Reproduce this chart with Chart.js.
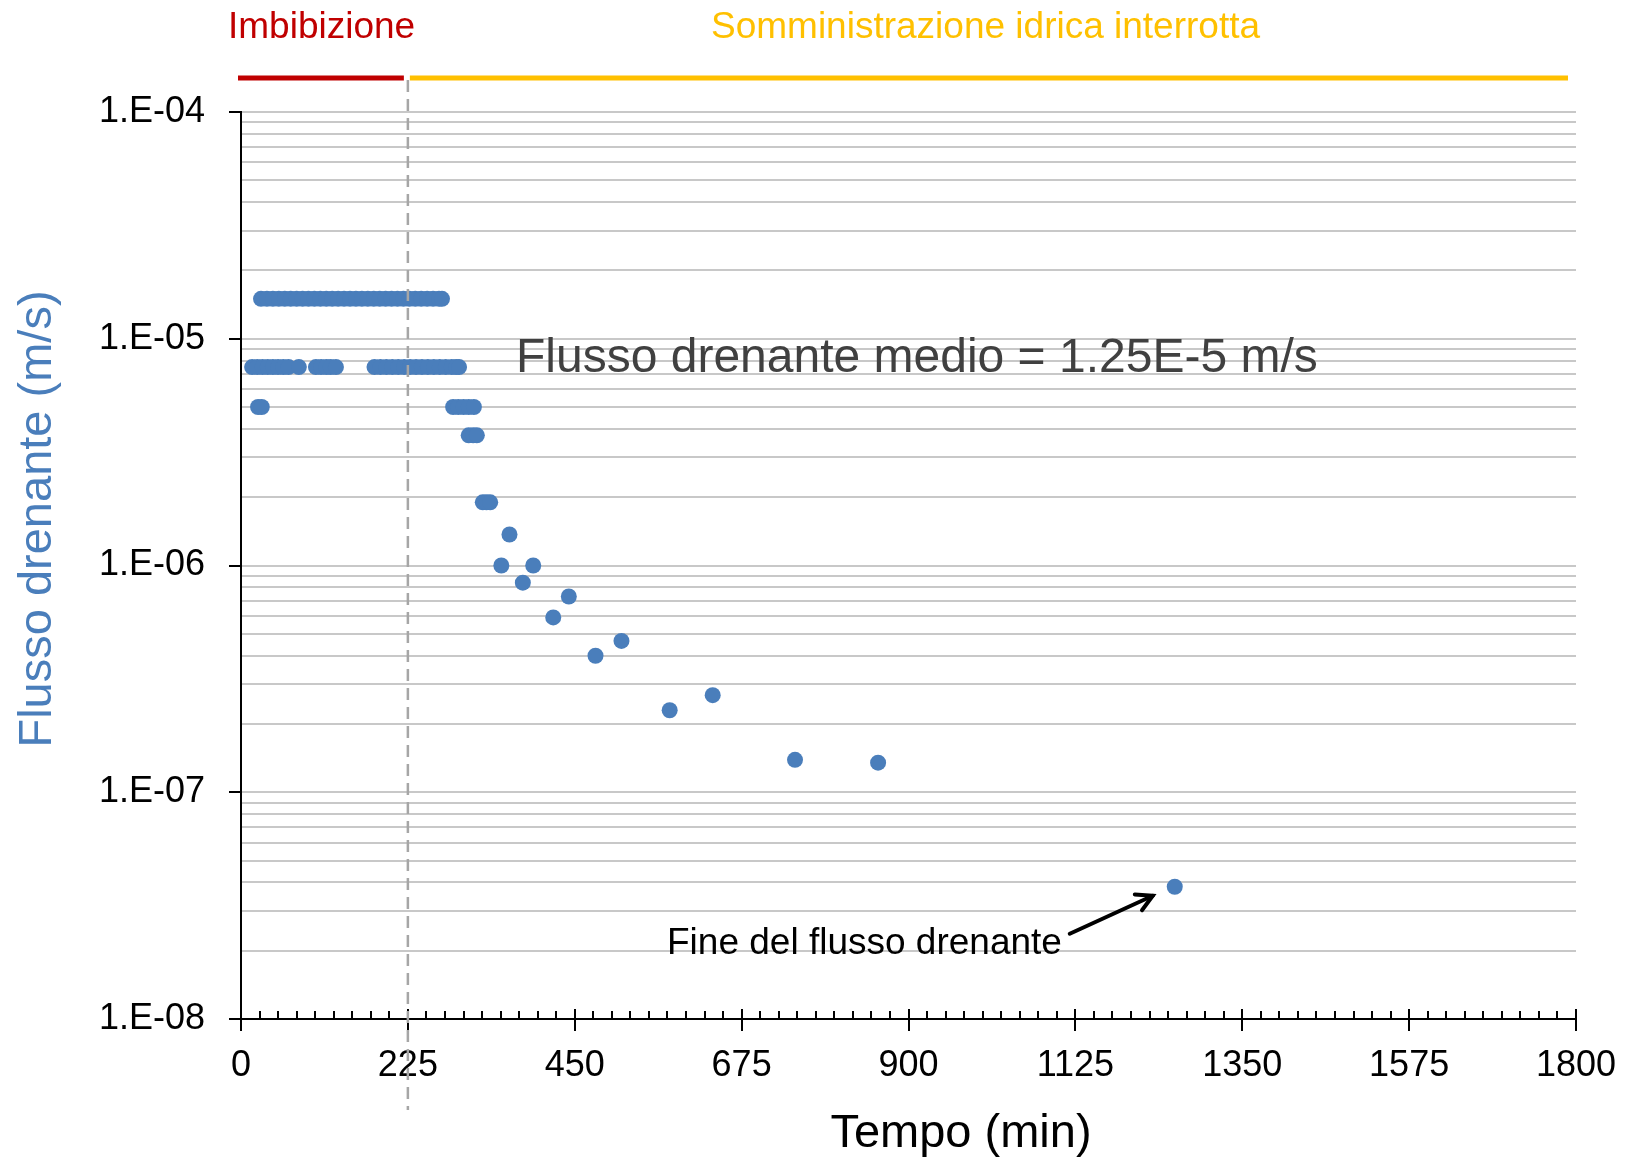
<!DOCTYPE html>
<html>
<head>
<meta charset="utf-8">
<script src="https://cdn.jsdelivr.net/npm/chart.js@4/dist/chart.umd.min.js"></script>
<style>
html,body{margin:0;padding:0;background:#fff;}
#wrap{width:1632px;height:1159px;position:relative;background:#fff;}
</style>
</head>
<body>
<div id="wrap"><canvas id="c" width="1632" height="1159"></canvas></div>
<script>
// ---------------- DATA ----------------
// time (min) of each measurement
const timeMin = [
  // flux 1.5E-5
  27,35,43,51,59,67,75,83,91,99,107,115,123,131,139,147,155,163,171,179,187,195,203,211,219,227,235,243,251,259,267,271,
  // flux 7.5E-6
  15,22,29,36,43,50,57,64,78, 101,108,115,121,128,
  180,188,196,204,212,220,228,236,244,252,260,268,276,284,290,294,
  // flux 5E-6
  23,28, 286,293,300,307,314,
  // flux 3.75E-6
  307,313,318,
  // flux 1.9E-6
  326,331,336,
  // later isolated readings
  351,362,380,394,421,442,478,513,578,636,747,859,1259
];
// drainage flux (m/s)
const fluxMs = [
  1.5e-5,1.5e-5,1.5e-5,1.5e-5,1.5e-5,1.5e-5,1.5e-5,1.5e-5,1.5e-5,1.5e-5,1.5e-5,1.5e-5,1.5e-5,1.5e-5,1.5e-5,1.5e-5,
  1.5e-5,1.5e-5,1.5e-5,1.5e-5,1.5e-5,1.5e-5,1.5e-5,1.5e-5,1.5e-5,1.5e-5,1.5e-5,1.5e-5,1.5e-5,1.5e-5,1.5e-5,1.5e-5,
  7.5e-6,7.5e-6,7.5e-6,7.5e-6,7.5e-6,7.5e-6,7.5e-6,7.5e-6,7.5e-6, 7.5e-6,7.5e-6,7.5e-6,7.5e-6,7.5e-6,
  7.5e-6,7.5e-6,7.5e-6,7.5e-6,7.5e-6,7.5e-6,7.5e-6,7.5e-6,7.5e-6,7.5e-6,7.5e-6,7.5e-6,7.5e-6,7.5e-6,7.5e-6,7.5e-6,
  5e-6,5e-6, 5e-6,5e-6,5e-6,5e-6,5e-6,
  3.75e-6,3.75e-6,3.75e-6,
  1.9e-6,1.9e-6,1.9e-6,
  1.0e-6,1.37e-6,8.4e-7,1.0e-6,5.9e-7,7.3e-7,4.0e-7,4.65e-7,2.3e-7,2.68e-7,1.39e-7,1.35e-7,3.83e-8
];
const xTickLabels = ['0','225','450','675','900','1125','1350','1575','1800'];
const yDecades = [1e-8,1e-7,1e-6,1e-5,1e-4];
const yTickLabels = ['1.E-08','1.E-07','1.E-06','1.E-05','1.E-04'];
const yMinorMultipliers = [1,2,3,4,5,6,7,8,9];
const phaseBoundary = 225;
const phaseLabels = ['Imbibizione','Somministrazione idrica interrotta'];
const annotationMean = 'Flusso drenante medio = 1.25E-5 m/s';
const annotationEnd = 'Fine del flusso drenante';
const endPointIndex = timeMin.length - 1;
const xTitle = 'Tempo (min)';
const yTitle = 'Flusso drenante (m/s)';

// ---------------- CHART ----------------
const FONT = "Arial, 'Liberation Sans', sans-serif";
const BLUE = '#4a7ebb';
const points = timeMin.map((t,i)=>({x:t, y:fluxMs[i]}));

function isDecade(v){ return yDecades.findIndex(d => Math.abs(v-d)/d < 1e-6); }

const deco = {
  id:'deco',
  afterDatasetsDraw(chart){
    const {ctx, scales:{x,y}} = chart;
    const axisY = y.getPixelForValue(yDecades[0]);
    ctx.save();
    // x axis tick marks (minor every 25 inside, major every 225 crossing)
    ctx.strokeStyle = '#000'; ctx.lineWidth = 2;
    for (let v = x.min; v <= x.max; v += 25) {
      const px = Math.round(x.getPixelForValue(v));
      const major = (v % 225) === 0;
      ctx.beginPath();
      ctx.moveTo(px, major ? axisY - 10 : axisY - 8);
      ctx.lineTo(px, major ? axisY + 12 : axisY);
      ctx.stroke();
    }
    // dashed boundary
    const xb = x.getPixelForValue(phaseBoundary);
    ctx.setLineDash([12,7]);
    ctx.strokeStyle = '#a6a6a6'; ctx.lineWidth = 2.5;
    ctx.beginPath(); ctx.moveTo(xb, 80); ctx.lineTo(xb, 1110); ctx.stroke();
    ctx.setLineDash([]);
    // phase bars
    ctx.lineWidth = 5;
    ctx.strokeStyle = '#c00000';
    ctx.beginPath(); ctx.moveTo(x.getPixelForValue(x.min) - 3, 78); ctx.lineTo(xb - 4, 78); ctx.stroke();
    ctx.strokeStyle = '#ffc000';
    ctx.beginPath(); ctx.moveTo(xb + 2, 78); ctx.lineTo(x.getPixelForValue(x.max) - 8, 78); ctx.stroke();
    // phase labels
    ctx.font = '37px ' + FONT;
    ctx.textBaseline = 'alphabetic';
    ctx.textAlign = 'left';
    ctx.fillStyle = '#c00000';
    ctx.fillText(phaseLabels[0], 228, 38);
    ctx.fillStyle = '#ffc000';
    ctx.fillText(phaseLabels[1], 711, 38);
    // mean annotation
    ctx.font = '48px ' + FONT;
    ctx.fillStyle = '#404040';
    ctx.fillText(annotationMean, 516, 372);
    // end annotation + arrow
    ctx.font = '37px ' + FONT;
    ctx.fillStyle = '#000';
    ctx.fillText(annotationEnd, 667, 954);
    const ex = x.getPixelForValue(timeMin[endPointIndex]);
    const ey = y.getPixelForValue(fluxMs[endPointIndex]);
    const tx = ex - 22, ty = ey + 9;       // arrow tip
    const sx = ex - 105, sy = ey + 47;     // arrow tail
    ctx.strokeStyle = '#000'; ctx.lineWidth = 4; ctx.lineCap = 'round';
    ctx.beginPath(); ctx.moveTo(sx, sy); ctx.lineTo(tx, ty); ctx.stroke();
    const ang = Math.atan2(ty - sy, tx - sx);
    const hl = 18;
    ctx.beginPath();
    ctx.moveTo(tx - hl*Math.cos(ang - 0.5), ty - hl*Math.sin(ang - 0.5));
    ctx.lineTo(tx, ty);
    ctx.lineTo(tx - hl*Math.cos(ang + 0.5), ty - hl*Math.sin(ang + 0.5));
    ctx.stroke();
    // axis titles
    ctx.font = '47px ' + FONT;
    ctx.fillStyle = '#000';
    ctx.textAlign = 'center';
    ctx.fillText(xTitle, 961, 1147);
    ctx.save();
    ctx.translate(51, 519);
    ctx.rotate(-Math.PI/2);
    ctx.fillStyle = BLUE;
    ctx.fillText(yTitle, 0, 0);
    ctx.restore();
    ctx.restore();
  }
};

new Chart(document.getElementById('c'), {
  type:'scatter',
  data:{ datasets:[{
    data: points,
    backgroundColor: BLUE,
    borderWidth: 0,
    pointRadius: 8,
    pointHoverRadius: 8
  }]},
  options:{
    responsive:false,
    animation:false,
    devicePixelRatio:1,
    layout:{ padding:{ top:112, right:56, bottom:0, left:0 } },
    plugins:{ legend:{display:false}, tooltip:{enabled:false} },
    scales:{
      x:{
        type:'linear', min:0, max:1800,
        afterFit(s){ s.height = 140; },
        ticks:{
          stepSize:225, autoSkip:false, maxRotation:0,
          padding:14, color:'#000',
          font:{ family:FONT, size:36 },
          callback(v){ const i = Math.round(v/225); return xTickLabels[i] ?? ''; }
        },
        grid:{ display:false, drawTicks:true, tickLength:11, tickColor:'rgba(0,0,0,0)' },
        border:{ display:true, color:'#000', width:2 }
      },
      y:{
        type:'logarithmic', min:yDecades[0], max:yDecades[yDecades.length-1],
        afterFit(s){ s.width = 241; },
        afterBuildTicks(s){
          const t = [];
          for (let d = 0; d < yDecades.length; d++) {
            for (const m of yMinorMultipliers) {
              const v = m * yDecades[d];
              if (v <= yDecades[yDecades.length-1] * 1.000001) t.push({value: v});
              if (d === yDecades.length-1) break;
            }
          }
          s.ticks = t;
        },
        ticks:{
          autoSkip:false, padding:24, color:'#000',
          font:{ family:FONT, size:36 },
          callback(v){ const i = isDecade(v); return i >= 0 ? yTickLabels[i] : ''; }
        },
        grid:{
          color:'#c8c8c8', lineWidth:2,
          drawTicks:true, tickLength:12, tickWidth:2,
          tickColor(c){ return (c.tick && isDecade(c.tick.value) >= 0) ? '#000' : 'rgba(0,0,0,0)'; }
        },
        border:{ display:true, color:'#000', width:2 }
      }
    }
  },
  plugins:[deco]
});
</script>
</body>
</html>
